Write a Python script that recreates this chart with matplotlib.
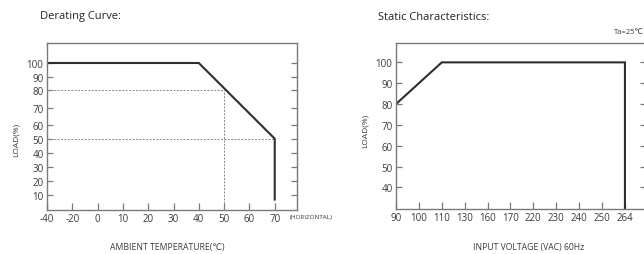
import numpy as np
import matplotlib
matplotlib.use("Agg")
import matplotlib.pyplot as plt

plt.rcParams['font.family'] = ['Open Sans', 'DejaVu Sans']

# ---------- Data: derating curve ----------
temp_labels = ["-40", "-20", "0", "10", "20", "30", "40", "50", "60", "70"]
load_ticks = [10, 20, 30, 40, 50, 60, 70, 80, 90, 100]
derate_temp = ["-40", "40", "70", "70"]
derate_load = [100, 100, 50, 7]
ref_temp = "50"
ref_load_hi = 80
ref_load_lo = 50

# ---------- Data: static characteristics ----------
volt_labels = ["90", "100", "110", "130", "160", "170", "220", "230", "240", "250", "264"]
static_ticks = [40, 50, 60, 70, 80, 90, 100]
static_volt = ["90", "110", "264", "264"]
static_load = [80, 100, 100, 30]

# the scanned load axis of the derating chart is not evenly spaced
warp_val = [-20, 0, 10, 20, 30, 40, 50, 60, 70, 80, 90, 100, 130]
warp_pix = [-28.4, 0, 14.2, 28.5, 42.5, 56.8, 70.8, 84.5, 101.2, 119.2, 132.8, 146.5, 187.6]


def fwd(v):
    return np.interp(v, warp_val, warp_pix)


def inv(p):
    return np.interp(p, warp_pix, warp_val)


LINE = "#2e2e2e"
SPINE = "#7a7a7a"
TXT = "#3a3a3a"

fig = plt.figure(figsize=(6.44, 2.55), dpi=100)
W, H = 644, 255


def px_axes(x0, y0, x1, y1):
    return fig.add_axes([x0 / W, 1 - y1 / H, (x1 - x0) / W, (y1 - y0) / H])


def style(ax):
    for s in ax.spines.values():
        s.set_color(SPINE)
        s.set_linewidth(1.0)
    ax.tick_params(axis="both", direction="in", length=4, width=0.9,
                   color=SPINE, labelcolor=TXT, labelsize=7, pad=2.5)
    ax.tick_params(axis="y", right=True, left=True)
    ax.tick_params(axis="x", length=5)


# ---------- Derating Curve ----------
ax1 = px_axes(47, 44, 297, 210.5)
style(ax1)
ax1.set_yscale("function", functions=(fwd, inv))
xi = {t: i for i, t in enumerate(temp_labels)}
ax1.set_xlim(0, 9.88)
ax1.set_ylim(0, inv(166.5))
ax1.set_xticks(range(len(temp_labels)))
ax1.set_xticklabels(temp_labels)
ax1.set_yticks(load_ticks)
ax1.set_yticklabels([str(v) for v in load_ticks])
ax1.yaxis.set_minor_locator(matplotlib.ticker.NullLocator())

x50 = xi[ref_temp]
ax1.plot([0, x50], [ref_load_hi, ref_load_hi], ls=(0, (2, 1.5)), color="#888888", lw=0.7)
ax1.plot([x50, x50], [0, ref_load_hi], ls=(0, (2, 1.5)), color="#888888", lw=0.7)
ax1.plot([0, xi["70"]], [ref_load_lo, ref_load_lo], ls=(0, (2, 1.5)), color="#888888", lw=0.7)
ax1.plot([xi[t] for t in derate_temp], derate_load, color=LINE, lw=1.5, solid_joinstyle="miter")

fig.text(40 / W, 1 - 17 / H, "Derating Curve:", fontsize=8, color="#222222", va="center")
fig.text(16 / W, 1 - 140 / H, "LOAD(%)", fontsize=6, color=TXT, rotation=90,
         ha="center", va="center")
fig.text(167 / W, 1 - 248 / H, "AMBIENT TEMPERATURE(℃)", fontsize=6.2, color=TXT,
         ha="center", va="center")
fig.text(290 / W, 1 - 218 / H, "(HORIZONTAL)", fontsize=4.5, color=TXT, va="center")

# ---------- Static Characteristics ----------
ax2 = px_axes(396, 44, 646, 210)
style(ax2)
vi = {v: i for i, v in enumerate(volt_labels)}
ax2.set_xlim(0, 10.92)
ax2.set_ylim(29.6, 109.3)
ax2.set_xticks(range(len(volt_labels)))
ax2.set_xticklabels(volt_labels)
ax2.set_yticks(static_ticks)
ax2.set_yticklabels([str(v) for v in static_ticks])
ax2.plot([vi[v] for v in static_volt], static_load, color=LINE, lw=1.5, solid_joinstyle="miter")

fig.text(378 / W, 1 - 17 / H, "Static Characteristics:", fontsize=8, color="#222222", va="center")
fig.text(644 / W, 1 - 33 / H, "Ta=25℃", fontsize=5.5, color=TXT, ha="right", va="center")
fig.text(365 / W, 1 - 131 / H, "LOAD(%)", fontsize=6, color=TXT, rotation=90,
         ha="center", va="center")
fig.text(529 / W, 1 - 248 / H, "INPUT VOLTAGE (VAC) 60Hz", fontsize=6.2, color=TXT,
         ha="center", va="center")

fig.savefig("out.png", dpi=100)
